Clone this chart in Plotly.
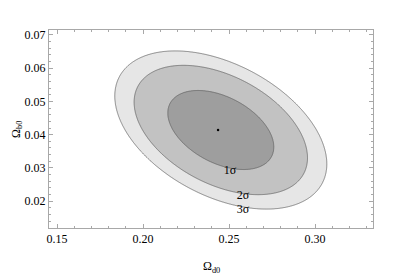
import numpy as np
import plotly.graph_objects as go

# best-fit point and Gaussian approximation of the likelihood
best_fit = [0.2436, 0.0414]      # (Omega_d0, Omega_b0)
ellipse_center = [0.2452, 0.0414]
sigmas = [0.0203, 0.00784]
rho = -0.43
dchi2_levels = [2.30, 6.17, 9.21]
sigma_labels = ["1σ", "2σ", "3σ"]
label_x = [0.2506, 0.2581, 0.2581]
label_y = [0.0290, 0.0215, 0.0174]

x_ticks = [0.15, 0.20, 0.25, 0.30]
y_ticks = [0.02, 0.03, 0.04, 0.05, 0.06, 0.07]
x_range = [0.1453, 0.3337]
y_range = [0.0119, 0.0715]

xs = np.linspace(x_range[0], x_range[1], 500)
ys = np.linspace(y_range[0], y_range[1], 400)
X, Y = np.meshgrid(xs, ys)
u = (X - ellipse_center[0]) / sigmas[0]
v = (Y - ellipse_center[1]) / sigmas[1]
Q = (u**2 - 2 * rho * u * v + v**2) / (1 - rho**2)
Z = np.interp(Q, [0] + dchi2_levels + [1e6], [0, 1, 2, 3, 3 + (1e6 - dchi2_levels[-1]) / 5])

c1, c2, c3 = "#9e9e9e", "#c2c2c2", "#e6e6e6"
cs = [[0, c1], [1/6, c1], [1/6, c2], [0.5, c2], [0.5, c3], [5/6, c3], [5/6, "white"], [1, "white"]]
serif = "Liberation Serif, Times New Roman, serif"

fig = go.Figure()
fig.add_trace(go.Contour(
    x=xs, y=ys, z=Z, colorscale=cs, showscale=False,
    contours=dict(start=1, end=3, size=1, coloring="fill"),
    line=dict(color="#5a5a5a", width=0.7), hoverinfo="skip"))
fig.add_trace(go.Scatter(x=[best_fit[0]], y=[best_fit[1]], mode="markers",
                         marker=dict(color="black", size=2.5), showlegend=False))
fig.add_trace(go.Scatter(x=label_x, y=label_y, mode="text", text=sigma_labels,
                         textfont=dict(family=serif, size=12, color="black"),
                         showlegend=False))

axis_common = dict(showgrid=False, zeroline=False, showline=True, linecolor="#a8a8a8",
                   linewidth=1, mirror="ticks", ticks="inside", ticklen=4, tickcolor="#a8a8a8",
                   automargin=False,
                   tickfont=dict(family=serif, size=12, color="black"))
fig.update_xaxes(range=x_range, tickvals=x_ticks, ticktext=[f"{t:.2f}" for t in x_ticks],
                 minor=dict(ticks="inside", dtick=0.01, tick0=0.15, ticklen=2, tickcolor="#a8a8a8"),
                 **axis_common)
fig.update_yaxes(range=y_range, tickvals=y_ticks, ticktext=[f"{t:.2f}" for t in y_ticks],
                 minor=dict(ticks="inside", dtick=0.002, tick0=0.02, ticklen=2, tickcolor="#a8a8a8"),
                 **axis_common)
fig.add_annotation(text="Ω<sub>d0</sub>", xref="paper", yref="paper", x=0.503, y=-0.197,
                   showarrow=False, font=dict(family=serif, size=12, color="black"),
                   xanchor="center", yanchor="middle")
fig.add_annotation(text="Ω<sub>b0</sub>", xref="paper", yref="paper", x=-0.099, y=0.50,
                   showarrow=False, textangle=-90, font=dict(family=serif, size=12, color="black"),
                   xanchor="center", yanchor="middle")
fig.update_layout(width=407, height=272, margin=dict(l=41, r=42, t=22, b=52),
                  plot_bgcolor="white", paper_bgcolor="white", showlegend=False)
fig.write_html("out.html")
